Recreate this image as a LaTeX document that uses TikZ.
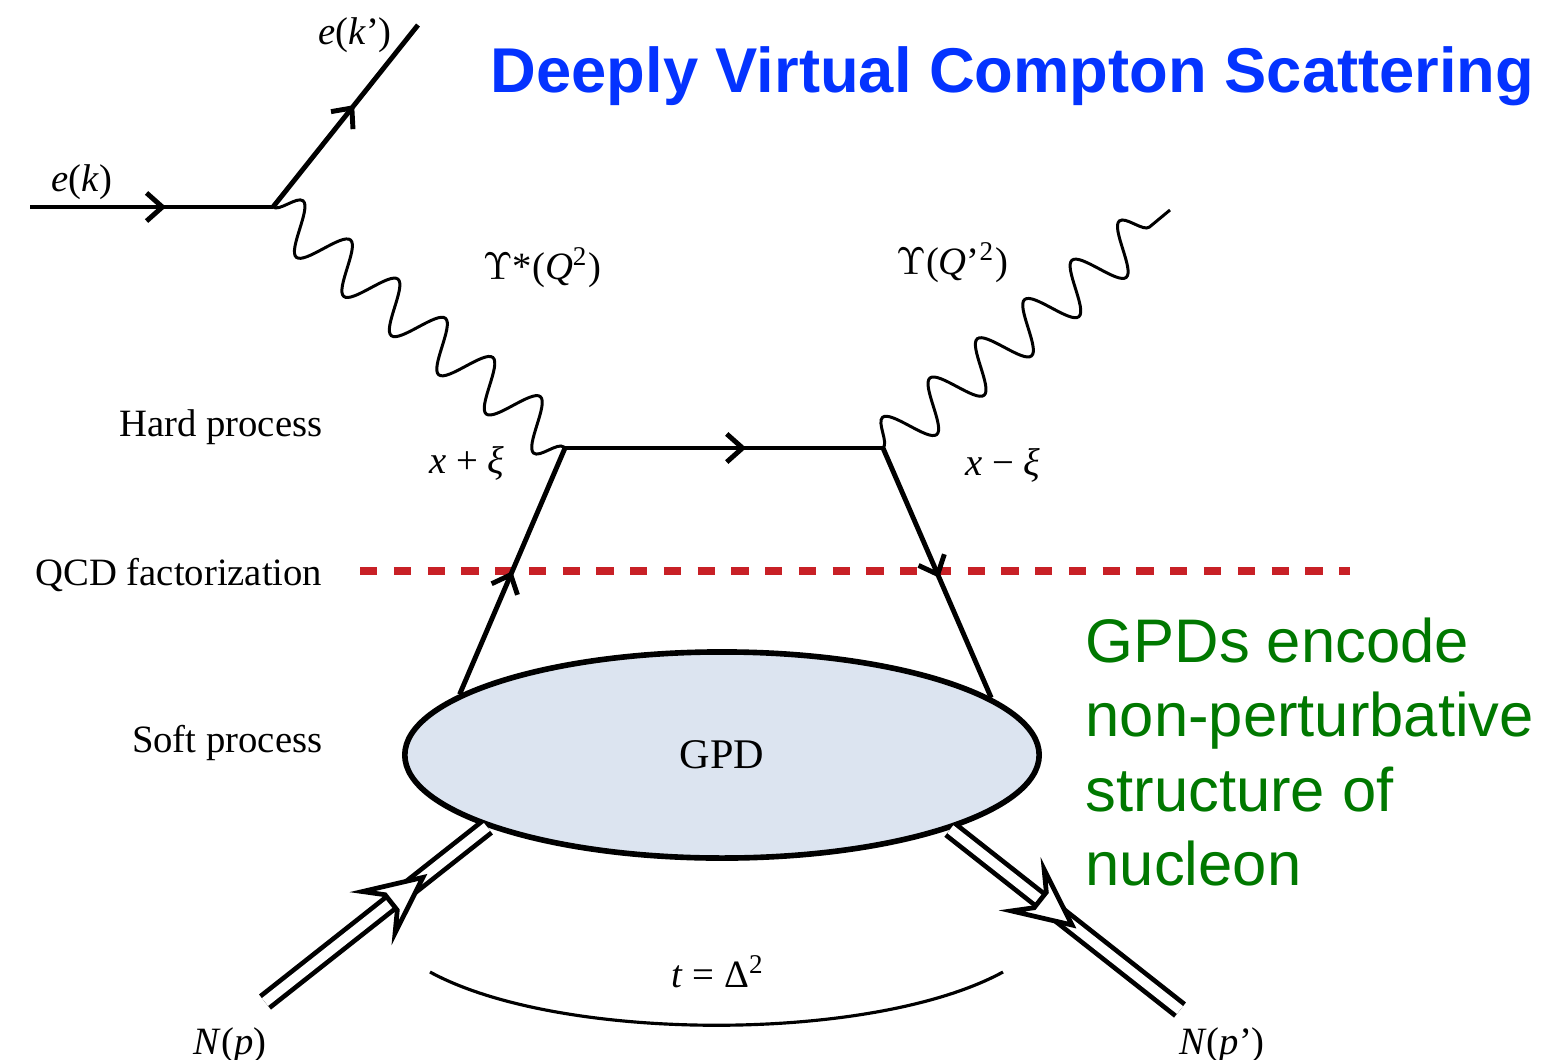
\documentclass[tikz,border=0pt]{standalone}
\usepackage{fontspec}
\setmainfont{Liberation Serif}
\newfontfamily\headfont{Liberation Sans}
\usetikzlibrary{shapes.geometric,decorations.pathmorphing,decorations.markings,arrows.meta}

\definecolor{titleblue}{RGB}{4,51,255}
\definecolor{notegreen}{RGB}{0,120,0}
\definecolor{cutred}{RGB}{200,32,38}
\definecolor{blobfill}{RGB}{220,228,240}

\tikzset{
  fermion/.style={line width=1.4pt, decoration={markings,
      mark=at position #1 with {\arrow{Straight Barb[length=4.5pt,width=8pt,line width=1.4pt]}}},
    postaction={decorate}},
  fermion/.default=0.5,
  photon/.style={line width=0.85pt, decorate,
    decoration={snake, amplitude=6.8pt, segment length=17.5pt}},
  nucleon/.style={double, double distance=2.8pt, line width=1.35pt, decoration={markings,
      mark=at position #1 with {\draw[fill=white, line width=1.35pt, line join=miter]
        (5pt,0pt) -- (-11pt,7.5pt) -- (-6.5pt,2.8pt) -- (-6.5pt,-2.8pt) -- (-11pt,-7.5pt) -- cycle;}},
    postaction={decorate}},
  lbl/.style={font=\fontsize{11}{13}\selectfont, inner sep=0pt},
}

\begin{document}
\begin{tikzpicture}[x=0.01cm, y=-0.01cm]
  \useasboundingbox (0,0) rectangle (1547,1060);

  % Vertices
  \coordinate (ein) at (30,207);
  \coordinate (vtx) at (273,207);
  \coordinate (eout) at (418,25);
  \coordinate (qa) at (565,448);
  \coordinate (qb) at (883,448);
  \coordinate (gout) at (1170,210);
  \coordinate (nin) at (265,1002);
  \coordinate (nout) at (1180,1010);
  \coordinate (cutl) at (360,571);
  \coordinate (cutr) at (1350,571);
  \coordinate (tl) at (430,972);
  \coordinate (tr) at (1003,972);

  % Soft blob
  \node[ellipse, draw, line width=1.6pt, fill=blobfill, minimum width=6.34cm,
    minimum height=2.06cm, inner sep=0pt, font=\fontsize{12}{14}\selectfont] (gpd) at (722,755) {GPD};

  % Factorization cut
  \draw[cutred, line width=2pt, dash pattern=on 4.9pt off 4.7pt] (cutl) -- (cutr);

  % Leptons
  \draw[fermion=0.56] (ein) -- (vtx);
  \draw[fermion=0.56] (vtx) -- (eout);

  % Photons
  \draw[photon] (vtx) -- (qa);
  \draw[photon] (qb) -- (gout);

  % Quarks
  \draw[fermion=0.5] (gpd.167) -- (qa);
  \draw[fermion=0.57] (qa) -- (qb);
  \draw[fermion=0.52] (qb) -- (gpd.12);

  % Nucleons
  \draw[nucleon=0.65] (nin) -- (gpd.197);
  \draw[nucleon=0.47] (gpd.342) -- (nout);

  % Momentum transfer
  \draw[line width=0.9pt] (tl) .. controls +(130,71) and +(-130,71) .. (tr);

  % Labels
  \node[lbl] (ek) at (82,182) {\textit{e}(\textit{k})};
  \node[lbl] (ekp) at (355,35) {\textit{e}(\textit{k}')};
  \node[lbl] (gstar) at (542,268) {$\Upsilon$*(\textit{Q}\textsuperscript{2})};
  \node[lbl] (greal) at (952,263) {$\Upsilon$(\textit{Q}'\textsuperscript{2})};
  \node[lbl, anchor=east] (hard) at (323,427) {Hard process};
  \node[lbl, anchor=east] (qcd) at (323,575) {QCD factorization};
  \node[lbl, anchor=east] (soft) at (323,743) {Soft process};
  \node[lbl] (xp) at (467,463) {\textit{x} + \textit{ξ}};
  \node[lbl] (xm) at (1003,465) {\textit{x} − \textit{ξ}};
  \node[lbl] (np) at (230,1045) {\textit{N}(\textit{p})};
  \node[lbl] (npp) at (1222,1045) {\textit{N}(\textit{p}')};
  \node[lbl] (tdelta) at (718,972) {\textit{t} = Δ\textsuperscript{2}};

  % Title and note
  \node[font=\headfont\bfseries\fontsize{18}{22}\selectfont, text=titleblue,
    anchor=base west, inner sep=0pt] (title) at (490,92) {Deeply Virtual Compton Scattering};
  \node[font=\headfont\fontsize{17.5}{21.2}\selectfont, text=notegreen, anchor=north west,
    align=left, inner sep=0pt] (note) at (1085,617) {GPDs encode\\non-perturbative\\structure of\\nucleon};
\end{tikzpicture}
\end{document}
